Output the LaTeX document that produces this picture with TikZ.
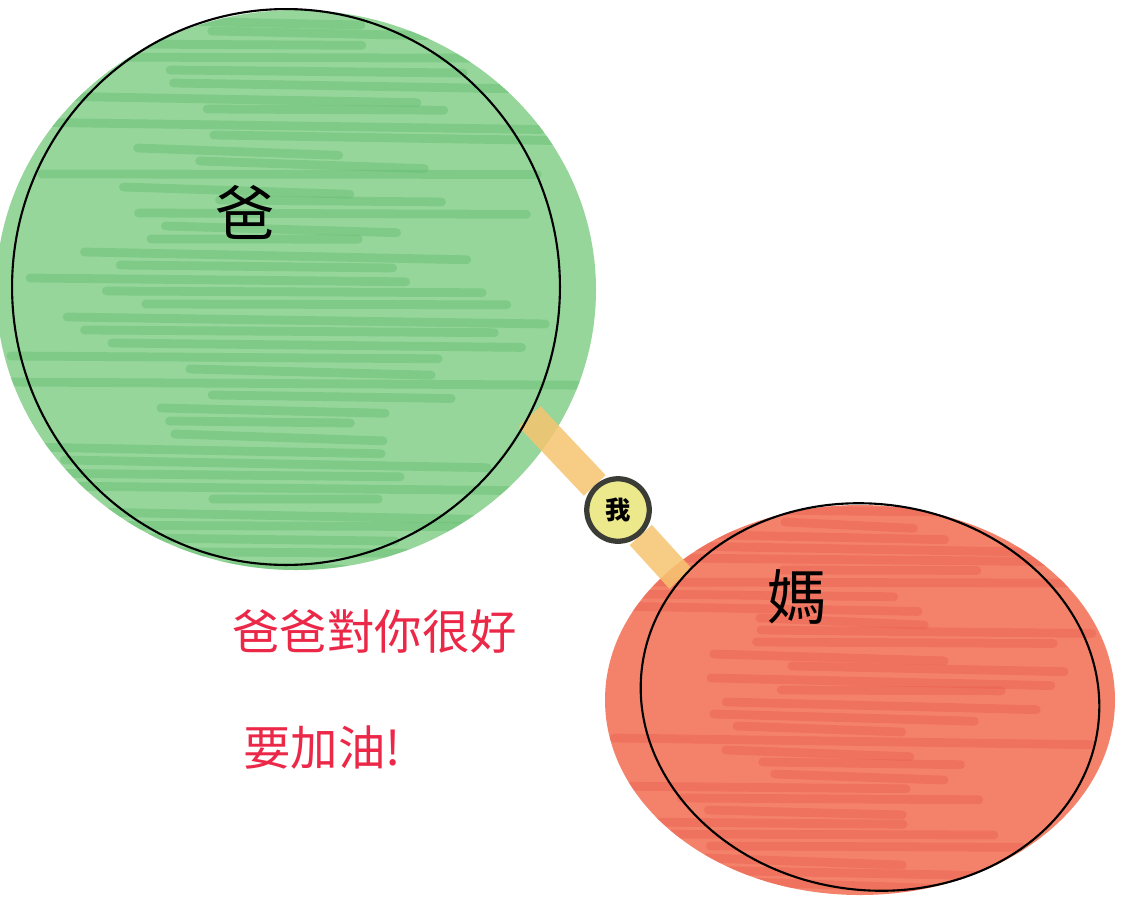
\documentclass[tikz,border=0pt]{standalone}
\usepackage{fontspec}
\newfontfamily\cjk{Noto Sans CJK TC}
\usepackage{xcolor}
\usetikzlibrary{shapes.geometric, backgrounds}

\definecolor{dadgreen}{RGB}{150,214,155}
\definecolor{dadstroke}{RGB}{100,188,112}
\definecolor{momred}{RGB}{244,130,106}
\definecolor{momstroke}{RGB}{234,95,80}
\definecolor{bandorange}{RGB}{246,196,112}
\definecolor{meyellow}{RGB}{236,232,140}
\definecolor{ringgray}{RGB}{60,60,55}
\definecolor{notered}{RGB}{236,40,72}

\begin{document}
\begin{tikzpicture}[
        x=0.02cm, y=-0.02cm,
        every node/.style={font=\cjk},
        parent/.style={ellipse, draw=black, line width=1.2pt, inner sep=0pt},
        child/.style={circle, draw=ringgray, line width=3pt, fill=meyellow, minimum size=1.25cm, inner sep=0pt, font=\cjk\bfseries\Large},
        parentname/.style={font=\cjk\fontsize{34}{34}\selectfont},
        notetext/.style={font=\cjk\fontsize{27}{32}\selectfont, text=notered, anchor=west, inner sep=0pt},
        band/.style={line width=0.6cm, draw=bandorange, opacity=0.85}
    ]
    \useasboundingbox (0,0) rectangle (1132,903);
    \pgfmathsetseed{7}

    % Dad, mom and me
    \node[parent, minimum width=10.96cm, minimum height=11.12cm] (dad) at (286,287) {};
    \node[parent, minimum width=9.2cm, minimum height=7.72cm, rotate=-8] (mom) at (870,697) {};
    \node[child] (me) at (618,510) {我};

    % Names
    \node[parentname] (dadname) at (245,212) {爸};
    \node[parentname] (momname) at (797,597) {媽};

    % Note
    \node[notetext] (line1) at (232,632) {爸爸對你很好};
    \node[notetext] (line2) at (243,748) {要加油!};

    \begin{pgfonlayer}{background}
        \fill[white] (0,0) rectangle (1132,903);
        % marker fill, dad
        \fill[dadgreen] (296,290) ellipse [x radius=300, y radius=280];
        \begin{scope}
            \clip (296,290) ellipse [x radius=300, y radius=280];
            \foreach \yy in {18,31,...,570}
                \draw[line width=5pt, dadstroke, opacity=0.45, line cap=round]
                    ({rnd*220},\yy) -- ({330+rnd*270},{\yy+rnd*8});
        \end{scope}
        % marker fill, mom
        \fill[momred] (860,700) ellipse [x radius=255, y radius=195];
        \begin{scope}
            \clip (860,700) ellipse [x radius=255, y radius=195];
            \foreach \yy in {510,522,...,890}
                \draw[line width=5pt, momstroke, opacity=0.45, line cap=round]
                    ({600+rnd*200},\yy) -- ({880+rnd*230},{\yy+rnd*8});
        \end{scope}
        % link
        \draw[band] (dad.-28) -- (me) -- (mom.156);
    \end{pgfonlayer}
\end{tikzpicture}
\end{document}
